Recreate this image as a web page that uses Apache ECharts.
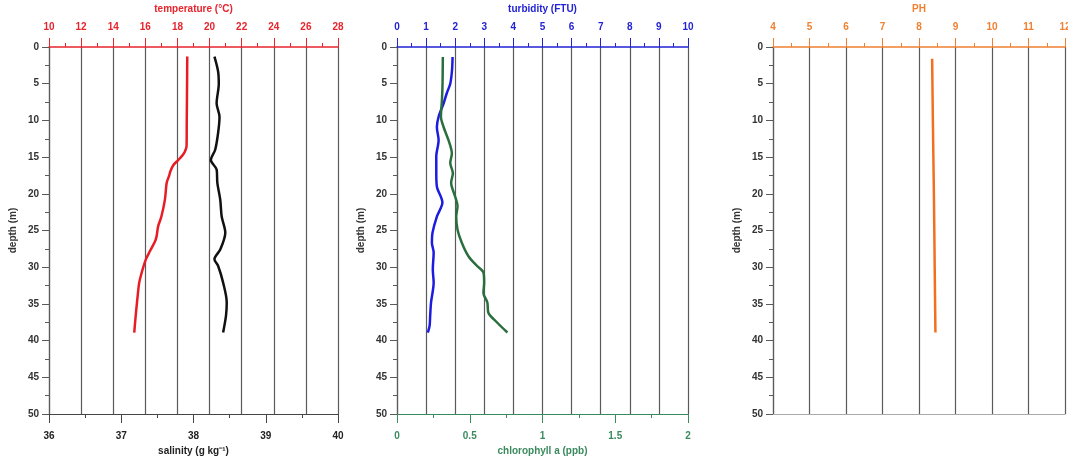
<!DOCTYPE html>
<html><head><meta charset="utf-8">
<script src="https://cdn.jsdelivr.net/npm/echarts@6/dist/echarts.min.js"></script>
<style>html,body{margin:0;padding:0;background:#fff}#c{width:1068px;height:463px}</style>
</head><body><div id="c"></div>
<script>
// ---- data ----
const tempDepth = [1.3, 5, 10, 13.5, 14.3, 14.8, 15.4, 16.1, 17.0, 17.5, 18.5, 20.8, 23.1, 24.4, 25.8, 26.5, 27.8, 28.9, 30.3, 32.1, 34.4, 36.6, 38.9];
const tempValues = [18.61, 18.6, 18.58, 18.57, 18.45, 18.3, 18.05, 17.74, 17.55, 17.49, 17.33, 17.22, 17.0, 16.8, 16.7, 16.6, 16.29, 16.04, 15.83, 15.62, 15.5, 15.4, 15.31];
const salDepth = [1.3, 3.3, 5, 7.7, 9.5, 11.75, 14, 15.4, 16.7, 18.5, 20.8, 23.1, 25.3, 27.6, 28.9, 29.8, 32.1, 34.8, 36.6, 38.9];
const salValues = [38.29, 38.34, 38.35, 38.32, 38.36, 38.34, 38.30, 38.24, 38.32, 38.33, 38.37, 38.39, 38.44, 38.37, 38.29, 38.34, 38.41, 38.46, 38.45, 38.41];
const turbDepth = [1.36, 3.2, 5, 6.3, 7.7, 9.5, 10.9, 12.7, 14.9, 17.2, 19, 21.2, 23.1, 25.3, 26.7, 28, 30.3, 32.1, 34.8, 36.6, 38, 38.9];
const turbValues = [1.91, 1.89, 1.83, 1.71, 1.60, 1.43, 1.37, 1.43, 1.35, 1.35, 1.37, 1.56, 1.37, 1.22, 1.2, 1.26, 1.23, 1.26, 1.17, 1.14, 1.12, 1.06];
const chlDepth = [1.36, 5, 7.2, 9.5, 10.9, 12.7, 14.5, 15.8, 17.2, 18.5, 20.4, 21.7, 23.1, 24.9, 26.7, 28.5, 29.8, 30.7, 32.1, 33.5, 34.8, 36.2, 37.5, 38.9];
const chlValues = [0.315, 0.313, 0.309, 0.302, 0.32, 0.354, 0.377, 0.366, 0.384, 0.372, 0.40, 0.416, 0.407, 0.416, 0.446, 0.491, 0.549, 0.594, 0.599, 0.594, 0.621, 0.628, 0.686, 0.759];
const phDepth = [1.6, 10, 20.8, 30, 38.9];
const phValues = [8.36, 8.38, 8.41, 8.43, 8.45];
const depthRange = [0, 50];
const tempRange = [10, 28];
const salRange = [36, 40];
const turbRange = [0, 10];
const chlRange = [0, 2];
const phRange = [4, 12];

function pairs(v, d) { return v.map((x, i) => [x, d[i]]); }

const FONT = 'Liberation Sans, Arial, sans-serif';
const GRID = '#5a5a5a';

function topAxis(gi, range, interval, color, name) {
  return {
    type: 'value', gridIndex: gi, position: 'top', min: range[0], max: range[1], interval: interval,
    name: name, nameLocation: 'middle', nameGap: 33,
    nameTextStyle: { color: color, fontWeight: 'bold', fontSize: 10, fontFamily: FONT },
    axisLine: { show: true, onZero: false, lineStyle: { color: color, width: 1.5 } },
    axisTick: { show: true, length: 9, lineStyle: { color: color } },
    minorTick: { show: true, splitNumber: 2, length: 4, lineStyle: { color: color } },
    axisLabel: { color: color, fontWeight: 'bold', fontSize: 10, fontFamily: FONT, margin: 15 },
    splitLine: { show: true, lineStyle: { color: GRID, width: 1.2 } }
  };
}
function bottomAxis(gi, range, interval, color, labelColor, name, showLabels) {
  return {
    type: 'value', gridIndex: gi, position: 'bottom', min: range[0], max: range[1], interval: interval,
    name: name, nameLocation: 'middle', nameGap: 30,
    nameTextStyle: { color: labelColor, fontWeight: 'bold', fontSize: 10, fontFamily: FONT },
    axisLine: { show: true, onZero: false, lineStyle: { color: color, width: 1.2 } },
    axisTick: { show: showLabels, length: 9, lineStyle: { color: color } },
    minorTick: { show: showLabels, splitNumber: 2, length: 4, lineStyle: { color: color } },
    axisLabel: { show: showLabels, color: labelColor, fontWeight: 'bold', fontSize: 10, fontFamily: FONT, margin: 17 },
    splitLine: { show: false }
  };
}
function depthAxis(gi) {
  return {
    type: 'value', gridIndex: gi, inverse: true, min: depthRange[0], max: depthRange[1], interval: 5,
    name: 'depth (m)', nameLocation: 'middle', nameGap: 31,
    nameTextStyle: { color: '#333', fontWeight: 'bold', fontSize: 10, fontFamily: FONT },
    axisLine: { show: true, onZero: false, lineStyle: { color: GRID, width: 1.2 } },
    axisTick: { show: true, length: 7, lineStyle: { color: GRID } },
    minorTick: { show: true, splitNumber: 2, length: 4, lineStyle: { color: GRID } },
    axisLabel: { color: '#333', fontWeight: 'bold', fontSize: 10, fontFamily: FONT, margin: 10 },
    splitLine: { show: false }
  };
}
function line(xi, yi, data, color) {
  return { type: 'line', xAxisIndex: xi, yAxisIndex: yi, data: data, showSymbol: false, smooth: 0.3,
    lineStyle: { color: color, width: 2.5 }, itemStyle: { color: color }, animation: false };
}

const chart = echarts.init(document.getElementById('c'), null, { renderer: 'canvas' });
chart.setOption({
  backgroundColor: '#fff',
  animation: false,
  grid: [
    { left: 49, top: 47, width: 289, height: 367, outerBoundsMode: 'none', containLabel: false },
    { left: 397, top: 47, width: 291, height: 367, outerBoundsMode: 'none', containLabel: false },
    { left: 773, top: 47, width: 292, height: 367, outerBoundsMode: 'none', containLabel: false }
  ],
  xAxis: [
    topAxis(0, tempRange, 2, '#e8242c', 'temperature (°C)'),
    bottomAxis(0, salRange, 1, '#444', '#222', 'salinity (g kg⁻¹)', true),
    topAxis(1, turbRange, 1, '#2323d6', 'turbidity (FTU)'),
    bottomAxis(1, chlRange, 0.5, '#3b8a5e', '#3b8a5e', 'chlorophyll a (ppb)', true),
    topAxis(2, phRange, 1, '#f08030', 'PH'),
    bottomAxis(2, phRange, 1, '#aaaaaa', '#aaaaaa', '', false)
  ],
  yAxis: [depthAxis(0), depthAxis(1), depthAxis(2)],
  series: [
    line(0, 0, pairs(tempValues, tempDepth), '#e81c24'),
    line(1, 0, pairs(salValues, salDepth), '#111111'),
    line(2, 1, pairs(turbValues, turbDepth), '#1c1ce0'),
    line(3, 1, pairs(chlValues, chlDepth), '#2a6e3e'),
    line(4, 2, pairs(phValues, phDepth), '#f07020')
  ]
});
</script></body></html>
